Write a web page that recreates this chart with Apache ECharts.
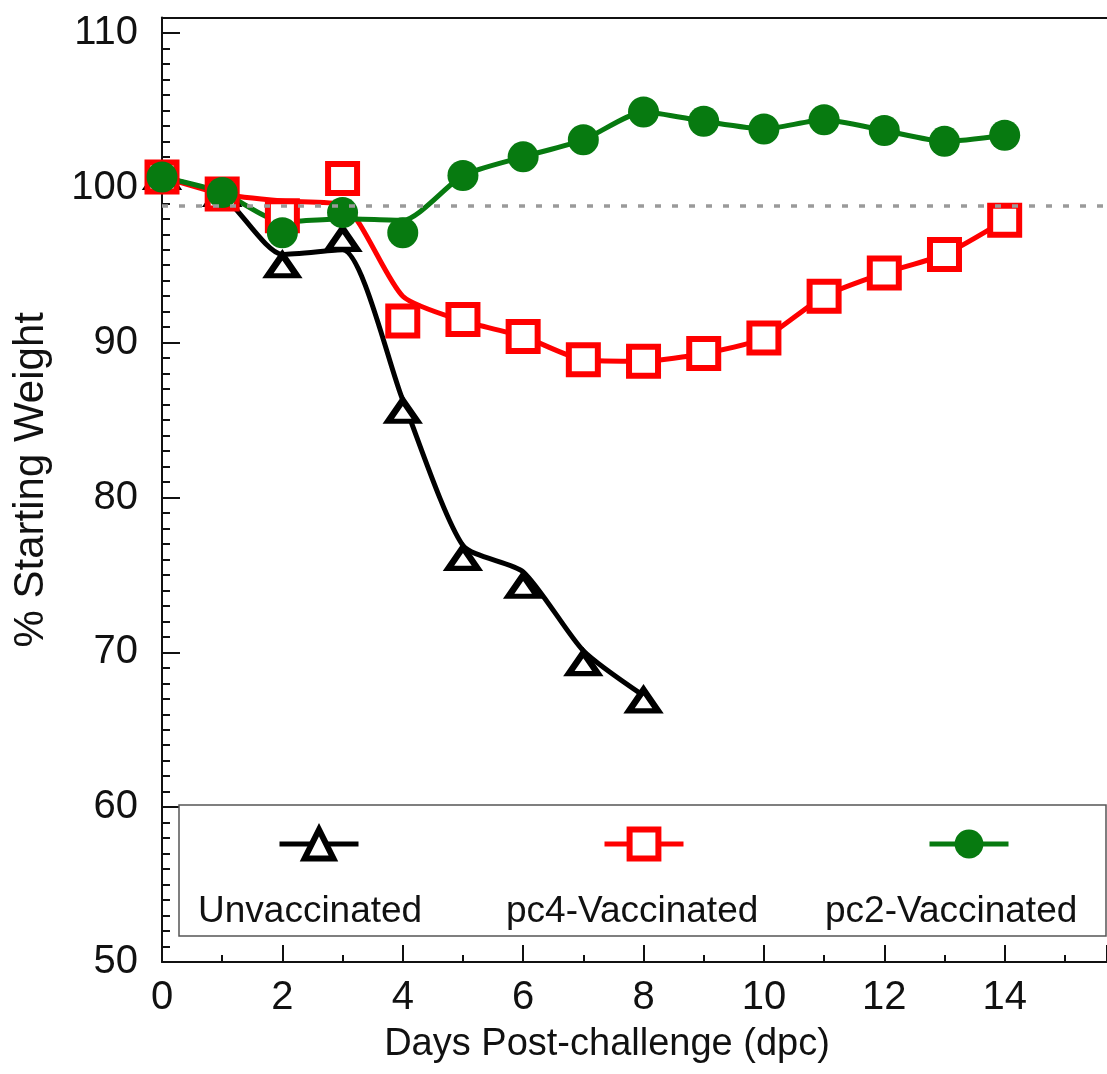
<!DOCTYPE html>
<html>
<head>
<meta charset="utf-8">
<title>% Starting Weight</title>
<script src="https://cdn.jsdelivr.net/npm/echarts@6/dist/echarts.min.js"></script>
<style>html,body{margin:0;padding:0;background:#fff;}</style>
</head>
<body>
<div id="main" style="width:1107px;height:1074px;"></div>
<script>
// days post-challenge
var days = [0, 1, 2, 3, 4, 5, 6, 7, 8, 9, 10, 11, 12, 13, 14];
var xTicks = [0, 2, 4, 6, 8, 10, 12, 14];
var yTicks = [50, 60, 70, 80, 90, 100, 110];

// marker positions
var unvacPts = [100.7, 99.6, 95.0, 96.7, 85.6, 76.1, 74.3, 69.3, 66.9];
var pc4Pts = [100.7, 99.6, 98.2, 100.6, 91.4, 91.5, 90.4, 88.9, 88.8, 89.3, 90.3, 93.0, 94.5, 95.7, 97.9];
var pc2Pts = [100.7, 99.7, 97.1, 98.4, 97.1, 100.8, 102.0, 103.1, 104.9, 104.3, 103.8, 104.4, 103.7, 103.0, 103.4];

// where the smoothed curves pass at each day
var unvacFit = [100.7, 99.5, 95.7, 96.0, 86.3, 76.9, 75.2, 70.1, 67.2];
var pc4Fit = [100.7, 99.6, 99.15, 98.9, 93.0, 91.4, 90.4, 88.9, 88.8, 89.3, 90.3, 93.0, 94.5, 95.7, 97.9];
var pc2Fit = [100.7, 99.7, 97.8, 98.0, 97.9, 100.8, 102.0, 103.1, 104.9, 104.3, 103.8, 104.4, 103.7, 103.0, 103.4];

var refLine = 98.85;
var names = ['Unvaccinated', 'pc4-Vaccinated', 'pc2-Vaccinated'];

var FONT = 'Liberation Sans, Arial, sans-serif';
var RED = '#ff0000', GREEN = '#077a10', BLACK = '#000000';

function pairs(vals) {
    return vals.map(function (v, i) { return [days[i], v]; });
}

function fitSeries(name, vals, color) {
    return {
        name: name + ' fit', type: 'line', data: pairs(vals),
        smooth: 0.22,
        symbol: 'none', silent: true, z: 2,
        lineStyle: { color: color, width: 5 }
    };
}

function iconLegend(name, left, color, bw) {
    return {
        data: [name], left: left, top: 821, padding: 5, itemGap: 0,
        itemWidth: 79, itemHeight: 36, selectedMode: false,
        formatter: function () { return ''; },
        itemStyle: { borderWidth: bw },
        lineStyle: { color: color, width: 5, opacity: 1 }
    };
}

function textLegend(name, left) {
    return {
        data: [name], left: left, top: 888, padding: 5, itemGap: 0,
        itemWidth: 0, itemHeight: 0, icon: 'rect', selectedMode: false,
        itemStyle: { opacity: 0 }, lineStyle: { opacity: 0 },
        textStyle: { fontFamily: FONT, fontSize: 37, color: '#111' }
    };
}

var myChart = echarts.init(document.getElementById('main'));

var blackFit = fitSeries(names[0], unvacFit, BLACK);
blackFit.markLine = {
    silent: true, symbol: 'none', label: { show: false },
    lineStyle: { color: '#9a9a9a', type: [6, 11], width: 3.5 },
    data: [{ yAxis: refLine }]
};

myChart.setOption({
    animation: false,
    backgroundColor: '#fff',
    grid: { left: 162, right: 0, top: 17.5, bottom: 112, containLabel: false, outerBoundsMode: 'none' },
    graphic: [{
        type: 'rect', z: 1,
        shape: { x: 179, y: 805, width: 927, height: 131 },
        style: { fill: '#fff', stroke: '#555', lineWidth: 1.5 }
    }],
    legend: [
        iconLegend(names[0], 272, BLACK, 6),
        iconLegend(names[1], 597, RED, 6),
        iconLegend(names[2], 922, GREEN, 0),
        textLegend(names[0], 187),
        textLegend(names[1], 495),
        textLegend(names[2], 815)
    ],
    xAxis: [{
        type: 'value', min: 0, max: 15.7, interval: 2,
        name: 'Days Post-challenge (dpc)', nameLocation: 'middle', nameGap: 64,
        nameTextStyle: { fontFamily: FONT, fontSize: 38, color: '#111', padding: [0, 55, 0, 0] },
        axisLine: { lineStyle: { color: '#111', width: 2 } },
        axisTick: { inside: true, length: 17, lineStyle: { color: '#111', width: 2 } },
        minorTick: { show: true, splitNumber: 2, length: 7, lineStyle: { color: '#111', width: 2 } },
        splitLine: { show: false },
        axisLabel: {
            margin: 16, fontFamily: FONT, fontSize: 40, color: '#111',
            formatter: function (v) { return xTicks.indexOf(v) >= 0 ? String(v) : ''; }
        }
    }, {
        type: 'value', position: 'top', min: 0, max: 15.7,
        axisLine: { onZero: false, lineStyle: { color: '#111', width: 2 } },
        axisTick: { show: false }, axisLabel: { show: false }, splitLine: { show: false }
    }],
    yAxis: {
        type: 'value', min: 50, max: 111, interval: 10,
        name: '% Starting Weight', nameLocation: 'middle', nameGap: 110,
        nameTextStyle: { fontFamily: FONT, fontSize: 42, color: '#111', padding: [0, 0, 0, 20] },
        axisLine: { lineStyle: { color: '#111', width: 2 } },
        axisTick: { inside: true, length: 18, lineStyle: { color: '#111', width: 2 } },
        minorTick: { show: true, splitNumber: 10, length: 8, lineStyle: { color: '#111', width: 2 } },
        splitLine: { show: false },
        axisLabel: {
            margin: 24, fontFamily: FONT, fontSize: 40, color: '#111',
            formatter: function (v) { return yTicks.indexOf(v) >= 0 ? String(v) : ''; }
        }
    },
    series: [
        blackFit,
        {
            name: names[0], type: 'line', data: pairs(unvacPts), z: 3,
            symbol: 'triangle', symbolSize: [29, 21],
            lineStyle: { width: 0, opacity: 0 },
            itemStyle: { color: '#fff', borderColor: BLACK, borderWidth: 6, borderJoin: 'miter' }
        },
        fitSeries(names[1], pc4Fit, RED),
        {
            name: names[1], type: 'line', data: pairs(pc4Pts), z: 3,
            symbol: 'rect', symbolSize: 29,
            lineStyle: { width: 0, opacity: 0 },
            itemStyle: { color: '#fff', borderColor: RED, borderWidth: 6, borderJoin: 'miter' }
        },
        fitSeries(names[2], pc2Fit, GREEN),
        {
            name: names[2], type: 'line', data: pairs(pc2Pts), z: 3,
            symbol: 'circle', symbolSize: 31,
            lineStyle: { width: 0, opacity: 0 },
            itemStyle: { color: GREEN }
        }
    ]
});
</script>
</body>
</html>
